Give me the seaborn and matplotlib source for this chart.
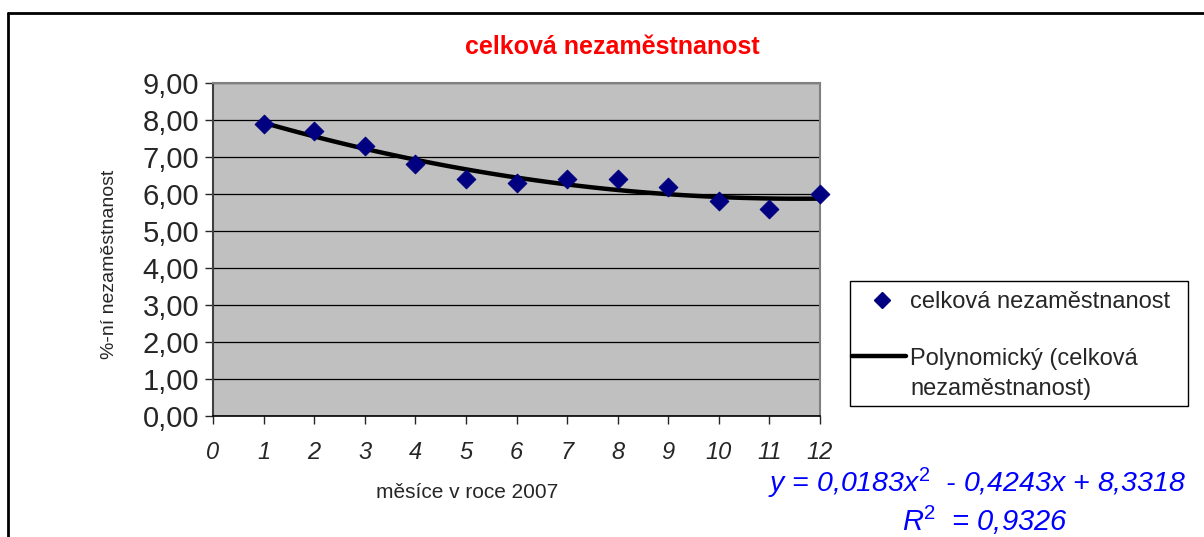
import numpy as np
import pandas as pd
import matplotlib
matplotlib.use("Agg")
import matplotlib.pyplot as plt
import seaborn as sns
from matplotlib.lines import Line2D
from matplotlib.patches import Rectangle
from matplotlib.ticker import FuncFormatter

# data
mesice = [1, 2, 3, 4, 5, 6, 7, 8, 9, 10, 11, 12]
nezamestnanost = [7.9, 7.7, 7.3, 6.8, 6.4, 6.3, 6.4, 6.4, 6.2, 5.8, 5.6, 6.0]
# polynomial trend coefficients as printed on the chart
trend_coef = [0.0183, -0.4243, 8.3318]
rovnice = "y = 0,0183x$^2$  - 0,4243x + 8,3318"
r2_text = "R$^2$  = 0,9326"
nazev_rady = "celková nezaměstnanost"
nazev_trendu = "Polynomický (celková\nnezaměstnanost)"

sns.set_style("white")
plt.rcParams["font.family"] = ["Liberation Sans", "DejaVu Sans"]
plt.rcParams["mathtext.fontset"] = "custom"
plt.rcParams["mathtext.rm"] = "Liberation Sans"
plt.rcParams["mathtext.it"] = "Liberation Sans:italic"
plt.rcParams["mathtext.default"] = "it"

df = pd.DataFrame({"mesic": mesice, "hodnota": nezamestnanost})
xs = np.linspace(1, 12, 100)
trend = pd.DataFrame({"mesic": xs, "hodnota": np.polyval(trend_coef, xs)})

W, H = 1204, 537
fig = plt.figure(figsize=(W / 100, H / 100), dpi=100)
ax = fig.add_axes([213 / W, 1 - 416 / H, (820 - 213) / W, (416 - 83) / H])
ax.set_facecolor("#C0C0C0")

sns.lineplot(data=trend, x="mesic", y="hodnota", ax=ax, color="black",
             linewidth=3.2, zorder=3)
sns.scatterplot(data=df, x="mesic", y="hodnota", ax=ax, marker="D", s=90,
                color="#000080", edgecolor="#000080", zorder=4, clip_on=False)

ax.set_xlim(0, 12)
ax.set_ylim(0, 9)
ax.set_xticks(range(0, 13))
ax.set_yticks(range(0, 10))
ax.yaxis.set_major_formatter(FuncFormatter(lambda v, p: f"{v:.2f}".replace(".", ",")))
ax.grid(axis="y", color="black", linewidth=0.9)
ax.set_axisbelow(True)
ax.tick_params(axis="y", labelsize=21, length=6, width=1, direction="out", left=True, pad=4)
ax.tick_params(axis="x", labelsize=17, length=6, width=1, direction="out", bottom=True, pad=12)
for t in ax.get_xticklabels():
    t.set_style("italic")
for s in ["top", "right"]:
    ax.spines[s].set_color("#808080")
    ax.spines[s].set_linewidth(1.5)
ax.spines["left"].set_color("#404040")
ax.spines["left"].set_linewidth(1.5)
ax.spines["bottom"].set_color("black")
ax.spines["bottom"].set_linewidth(1.2)
ax.set_xlabel("")
ax.set_ylabel("")

fig.text(612 / W, 1 - 47 / H, "celková nezaměstnanost", color="red",
         fontsize=18, fontweight="bold", ha="center", va="center")
fig.text(109 / W, 1 - 264 / H, "%-ní nezaměstnanost", rotation=90,
         fontsize=14, ha="center", va="center")
fig.text(467 / W, 1 - 492 / H, "měsíce v roce 2007", fontsize=15,
         ha="center", va="center")
fig.text(768 / W, 1 - 483 / H, rovnice, color="#0000FF", fontsize=20.5,
         style="italic", ha="left", va="center")
fig.text(985 / W, 1 - 520 / H, r2_text, color="#0000FF", fontsize=21,
         style="italic", ha="center", va="center")

# legend box, laid out like the Excel one
fig.add_artist(Rectangle((850 / W, 1 - 406 / H), 338 / W, 125 / H,
                         transform=fig.transFigure, facecolor="white",
                         edgecolor="black", linewidth=1.0))
fig.add_artist(Line2D([882 / W], [1 - 300 / H], marker="D", linestyle="none",
                      color="#000080", markersize=8.5))
fig.text(910 / W, 1 - 302 / H, nazev_rady, fontsize=17, ha="left", va="center")
fig.add_artist(Line2D([852 / W, 906 / W], [1 - 356 / H, 1 - 356 / H],
                      color="black", linewidth=3.2))
fig.text(910 / W, 1 - 374 / H, nazev_trendu, fontsize=17, ha="left",
         va="center", linespacing=1.45)

# outer chart border
fig.add_artist(Line2D([8 / W, 8 / W], [0, 1 - 13 / H], color="black", linewidth=2))
fig.add_artist(Line2D([8 / W, 1], [1 - 13 / H, 1 - 13 / H], color="black", linewidth=2))

fig.savefig("out.png", dpi=100)
